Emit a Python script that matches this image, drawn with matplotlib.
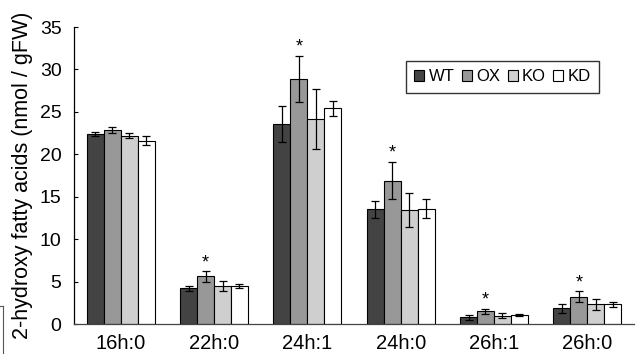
import numpy as np
import matplotlib
matplotlib.use("Agg")
import matplotlib.pyplot as plt
from matplotlib.lines import Line2D

plt.rcParams['font.family'] = ['Liberation Sans', 'DejaVu Sans']

categories = ["16h:0", "22h:0", "24h:1", "24h:0", "26h:1", "26h:0"]
genotypes = ["WT", "OX", "KO", "KD"]

wt = [22.4, 4.2, 23.6, 13.5, 0.8, 1.85]
ox = [22.9, 5.6, 28.9, 16.9, 1.5, 3.2]
ko = [22.2, 4.5, 24.2, 13.4, 1.0, 2.3]
kd = [21.6, 4.5, 25.4, 13.6, 1.1, 2.3]

wt_err = [0.25, 0.33, 2.1, 1.0, 0.3, 0.5]
ox_err = [0.35, 0.65, 2.7, 2.2, 0.3, 0.65]
ko_err = [0.3, 0.6, 3.55, 2.0, 0.3, 0.63]
kd_err = [0.5, 0.2, 0.85, 1.15, 0.1, 0.3]

# significance marks on OX
ox_signif = [False, True, True, True, True, True]

colors = ["#434343", "#989898", "#cfcfcf", "#ffffff"]

fig = plt.figure(figsize=(6.42, 3.54), dpi=100)
ax = fig.add_axes([0.1153, 0.0847, 0.8722, 0.839])

x = np.arange(len(categories))
w = 0.182
series = [(wt, wt_err), (ox, ox_err), (ko, ko_err), (kd, kd_err)]
for i, ((vals, errs), c, name) in enumerate(zip(series, colors, genotypes)):
    pos = x + (i - 1.5) * w
    ax.bar(pos, vals, width=w, color=c, edgecolor="black", linewidth=0.8,
           label=name, zorder=2)
    ax.errorbar(pos, vals, yerr=errs, fmt="none", ecolor="black",
                elinewidth=0.9, capsize=3, capthick=0.9, zorder=3)

ox_pos = x - 0.5 * w
for px, v, e, s in zip(ox_pos, ox, ox_err, ox_signif):
    if s:
        ax.text(px, v + e + 1.0, "*", ha="center", va="center", fontsize=13)

ax.set_xlim(-0.5, 5.5)
ax.set_ylim(0, 35)
ax.set_yticks(range(0, 36, 5))
ax.set_xticks(x)
ax.set_xticklabels(categories)
ax.tick_params(axis="y", direction="in", length=3, width=0.8, labelsize=14, pad=9)
ax.tick_params(axis="x", length=0, labelsize=14.5, pad=7)
for side in ["top", "right"]:
    ax.spines[side].set_visible(False)
ax.spines["left"].set_linewidth(0.9)
ax.spines["bottom"].set_linewidth(0.9)
ax.spines["bottom"].set_color("#444444")

ax.set_ylabel("2-hydroxy fatty acids (nmol / gFW)", fontsize=15.5, labelpad=5)

leg = ax.legend(loc="upper left", bbox_to_anchor=(406 / 642, 1 - 61 / 354),
                bbox_transform=fig.transFigure, ncol=4, fontsize=12,
                handlelength=0.6, handleheight=0.6, handletextpad=0.25,
                columnspacing=0.45, borderpad=0.5, fancybox=False,
                borderaxespad=0)
leg.get_frame().set_edgecolor("black")
leg.get_frame().set_linewidth(1.0)

# cropped artefact at the bottom-left corner
fig.add_artist(Line2D([3 / 642, 3 / 642], [0, 1 - 306 / 354], color="#555555", linewidth=0.8))
fig.add_artist(Line2D([0, 3 / 642], [1 - 306 / 354, 1 - 306 / 354], color="#555555", linewidth=0.8))

fig.savefig("out.png", dpi=100)
